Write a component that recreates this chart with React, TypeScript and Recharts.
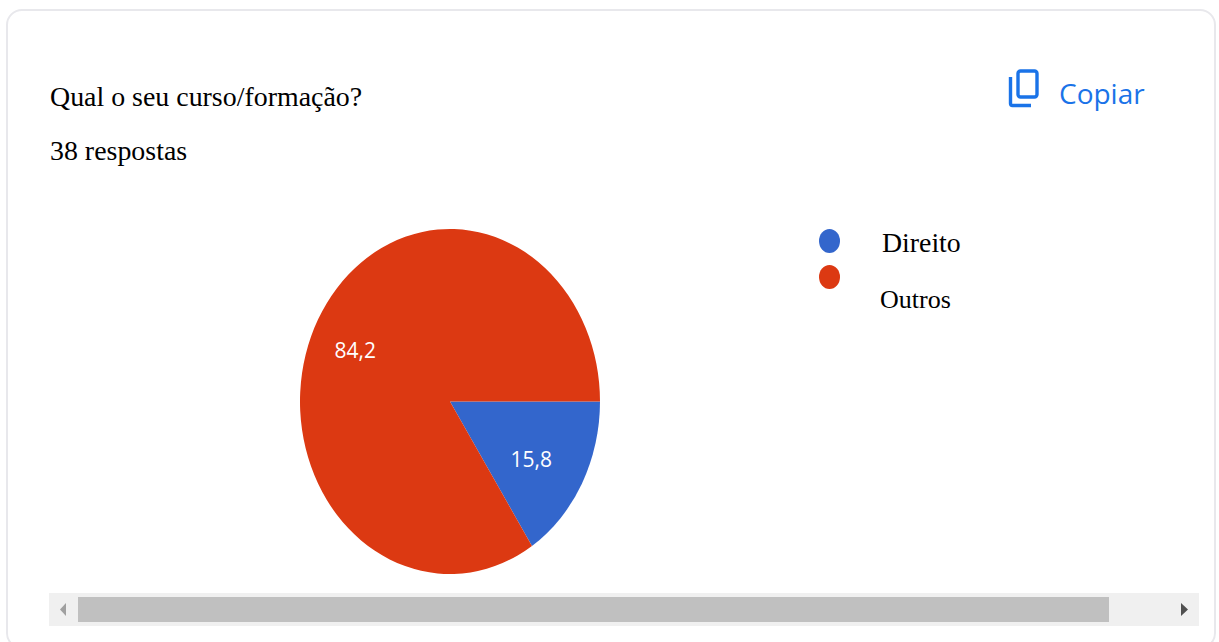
import React from "react";
import { PieChart, Pie, Cell, Legend, Sector } from "recharts";

const categories = ["Direito", "Outros"];
const shares = [15.8, 84.2];
const colors = ["#3366cc", "#dc3912"];

const question = "Qual o seu curso/formação?";
const responses = "38 respostas";
const copyLabel = "Copiar";

const rows = categories.map((name, i) => ({ name, value: shares[i] }));

const W = 1219;
const H = 642;
const SQUASH = 1.15; // the pie is drawn taller than wide
const SERIF = '"Liberation Serif", serif';

// Small per-slice shifts that keep each label clear of the slice edges.
const labelShifts = [
  { dx: -0.5, dy: 7 },
  { dx: -13, dy: -1 },
];

const StretchedSector = (props: any) => {
  const { cx, cy } = props;
  return (
    <g transform={`translate(${cx} ${cy}) scale(1 ${SQUASH}) translate(${-cx} ${-cy})`}>
      <Sector {...props} stroke="none" />
    </g>
  );
};

const SliceLabel = (props: any) => {
  const { cx, cy, midAngle, value, index } = props;
  const rad = (midAngle * Math.PI) / 180;
  const x = cx + 93 * Math.cos(rad) + labelShifts[index].dx;
  const y = cy - 93 * SQUASH * Math.sin(rad) + labelShifts[index].dy;
  return (
    <text
      x={x}
      y={y}
      fill="#ffffff"
      fontFamily='"Open Sans", sans-serif'
      fontSize={21}
      textAnchor="middle"
      dominantBaseline="central"
    >
      {String(value).replace(".", ",")}
    </text>
  );
};

const LegendList = ({ payload }: any) => {
  const rowsLayout = [
    { dotTop: 0, textLeft: 63, textTop: -1, size: 27.8 },
    { dotTop: 36, textLeft: 61, textTop: 56, size: 26 },
  ];
  return (
    <div style={{ position: "relative", width: 180, height: 110 }}>
      {(payload || []).map((entry: any, i: number) => (
        <React.Fragment key={entry.value}>
          <div
            style={{
              position: "absolute",
              left: 0,
              top: rowsLayout[i].dotTop,
              width: 21,
              height: 24,
              borderRadius: "50%",
              background: entry.color,
            }}
          />
          <div
            style={{
              position: "absolute",
              left: rowsLayout[i].textLeft,
              top: rowsLayout[i].textTop,
              fontFamily: SERIF,
              fontSize: rowsLayout[i].size,
              lineHeight: "30px",
              color: "#000",
              whiteSpace: "nowrap",
            }}
          >
            {entry.value}
          </div>
        </React.Fragment>
      ))}
    </div>
  );
};

const CopyIcon = () => (
  <svg
    width={40}
    height={44}
    style={{ position: "absolute", left: 1004, top: 66 }}
    fill="none"
    stroke="#1a73e8"
    strokeWidth={3.4}
  >
    <rect x={14} y={5} width={19} height={26} rx={2.5} />
    <path d="M6.5 11 V37.5 Q6.5 39.5 8.5 39.5 H27" />
  </svg>
);

const textStyle: React.CSSProperties = {
  position: "absolute",
  fontFamily: SERIF,
  fontSize: 27.9,
  lineHeight: "32px",
  color: "#000",
  whiteSpace: "nowrap",
};

export default function App() {
  return (
    <div style={{ position: "absolute", left: 0, top: 0, width: W, height: H, background: "#fff", overflow: "hidden" }}>
      <div
        style={{
          position: "absolute",
          left: 6,
          top: 9,
          width: 1210,
          height: 640,
          boxSizing: "border-box",
          border: "2px solid #e8e8ec",
          borderRadius: 16,
        }}
      />
      <div style={{ ...textStyle, left: 50, top: 81 }}>{question}</div>
      <div style={{ ...textStyle, left: 50, top: 135 }}>{responses}</div>
      <CopyIcon />
      <div
        style={{
          position: "absolute",
          left: 1059,
          top: 75,
          fontFamily: '"Open Sans", sans-serif',
          fontSize: 28,
          lineHeight: "36px",
          color: "#1a73e8",
        }}
      >
        {copyLabel}
      </div>

      <div style={{ position: "absolute", left: 0, top: 0 }}>
        <PieChart width={W} height={H} margin={{ top: 0, right: 0, bottom: 0, left: 0 }}>
          <Pie
            data={rows}
            dataKey="value"
            nameKey="name"
            cx={450}
            cy={401.5}
            outerRadius={150}
            startAngle={0}
            endAngle={-360}
            stroke="none"
            shape={StretchedSector}
            label={SliceLabel}
            labelLine={false}
            isAnimationActive={false}
          >
            {rows.map((row, i) => (
              <Cell key={row.name} fill={colors[i]} />
            ))}
          </Pie>
          <Legend
            content={LegendList}
            layout="vertical"
            wrapperStyle={{ position: "absolute", left: 819, top: 229, width: 180, height: 110 }}
          />
        </PieChart>
      </div>

      {/* horizontal scrollbar below the chart */}
      <div style={{ position: "absolute", left: 49, top: 593, width: 1150, height: 33, background: "#f0f0f0" }} />
      <div style={{ position: "absolute", left: 78, top: 597, width: 1031, height: 25, background: "#c0c0c0" }} />
      <svg width={W} height={H} style={{ position: "absolute", left: 0, top: 0, pointerEvents: "none" }}>
        <polygon points="66,603 66,616 60,609.5" fill="#a0a0a0" />
        <polygon points="1181,603 1181,616 1188,609.5" fill="#505050" />
      </svg>
    </div>
  );
}
